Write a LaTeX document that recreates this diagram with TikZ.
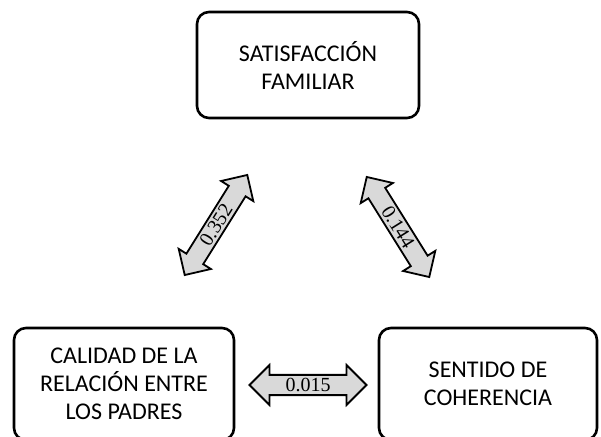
\documentclass[tikz,border=0pt]{standalone}
\usepackage{fontspec}
\setmainfont{Carlito}
\newfontfamily\numfont{Liberation Serif}
\usetikzlibrary{shapes.arrows}
\begin{document}
\begin{tikzpicture}[x=1pt,y=1pt,
  box/.style={draw=black, line width=2.6pt, rounded corners=12pt, fill=white,
    align=center, font=\fontsize{24}{28}\selectfont, inner sep=0pt},
  darrow/.style={double arrow, draw=black, line width=1.8pt, fill=black!15,
    minimum height=118pt, minimum width=38pt, double arrow head extend=8pt,
    inner sep=1pt, font=\numfont\fontsize{20}{20}\selectfont}]
\useasboundingbox (0,0) rectangle (601,436);
\node[box, minimum width=222pt, minimum height=106pt] (sat) at (308,371) {SATISFACCIÓN\\FAMILIAR};
\node[box, minimum width=220pt, minimum height=112pt] (cal) at (124,52) {CALIDAD DE LA\\RELACIÓN ENTRE\\LOS PADRES};
\node[box, minimum width=218pt, minimum height=112pt] (sen) at (488,52) {SENTIDO DE\\COHERENCIA};
\node[darrow, rotate=58] (a1) at (216,211) {0.352};
\node[darrow, rotate=-58] (a2) at (398,209) {0.144};
\node[darrow, minimum height=117pt, minimum width=40pt, double arrow head extend=8.5pt] (a3) at (308,51) {0.015};
\end{tikzpicture}
\end{document}
